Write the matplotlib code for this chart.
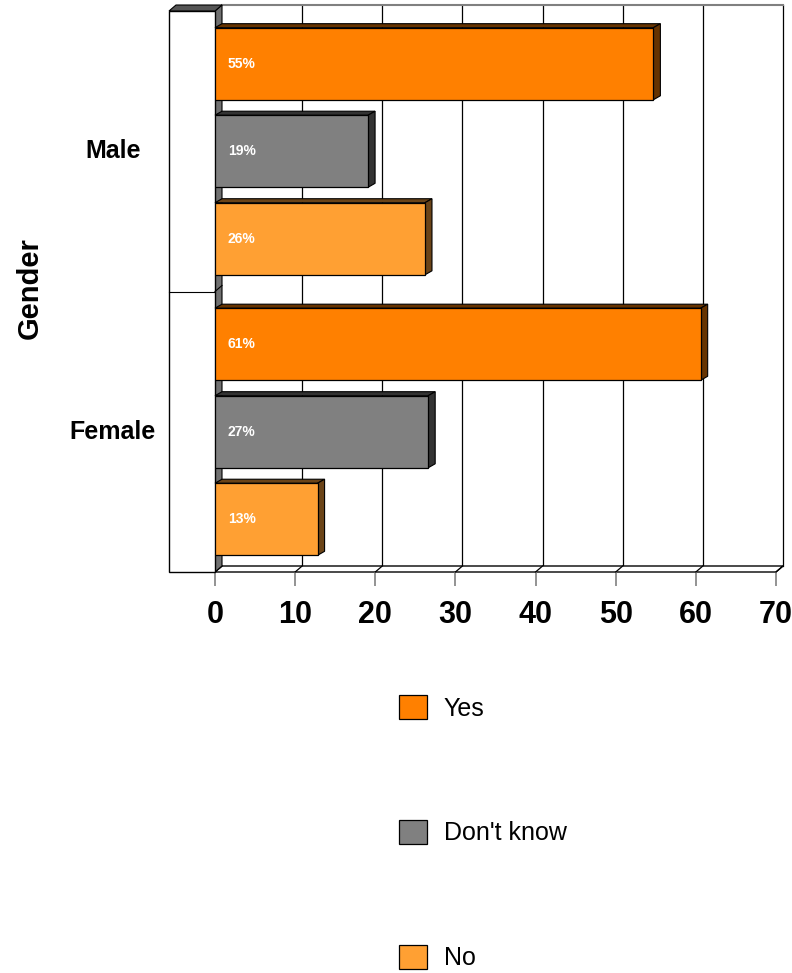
import matplotlib
matplotlib.use("Agg")
import matplotlib.pyplot as plt
from matplotlib.patches import Polygon, Rectangle

plt.rcParams['font.family'] = ['Liberation Sans', 'DejaVu Sans']

# ---- data ----
categories = ["Female", "Male"]
series_names = ["Yes", "Don't know", "No"]
yes_vals = [60.6, 54.7]
dk_vals = [26.6, 19.1]
no_vals = [12.8, 26.2]
yes_labels = ["61%", "55%"]
dk_labels = ["27%", "19%"]
no_labels = ["13%", "26%"]
x_ticks = [0, 10, 20, 30, 40, 50, 60, 70]

front_colors = ["#FF8000", "#808080", "#FFA033"]
side_colors = ["#663300", "#333333", "#6B4418"]

W, H = 792, 973
fig = plt.figure(figsize=(W / 100, H / 100), dpi=100)
# front plane of the plot area in pixels
x0p, x1p, y0p, y1p = 215, 776, 11, 572
ax = fig.add_axes([x0p / W, 1 - y1p / H, (x1p - x0p) / W, (y1p - y0p) / H])
ax.set_xlim(0, 70)
ax.set_ylim(-0.5, 1.5)
ax.set_facecolor("none")
for s in ax.spines.values():
    s.set_visible(False)

pxx = (x1p - x0p) / 70.0
pxy = (y1p - y0p) / 2.0
dxw, dyw = 7 / pxx, 6 / pxy       # wall depth
dxb, dyb = 7 / pxx, 4 / pxy       # bar depth
ylo, yhi = -0.5, 1.5

# back wall gridlines
for v in x_ticks[1:]:
    ax.plot([v + dxw, v + dxw], [ylo + dyw, yhi + dyw], color="black", lw=0.9,
            zorder=1, clip_on=False)
ax.plot([dxw, 70 + dxw], [yhi + dyw, yhi + dyw], color="#808080", lw=1.5,
        zorder=1, clip_on=False)

# floor
floor = Polygon([[0, ylo], [70, ylo], [70 + dxw, ylo + dyw], [dxw, ylo + dyw]],
                closed=True, facecolor="white", edgecolor="black", lw=1.0,
                zorder=1.5, clip_on=False)
ax.add_patch(floor)
for v in x_ticks:
    ax.plot([v, v + dxw], [ylo, ylo + dyw], color="black", lw=0.9, zorder=1.6,
            clip_on=False)

# value axis side strip (gray)
strip = Polygon([[0, ylo], [dxw, ylo + dyw], [dxw, yhi + dyw], [0, yhi]],
                closed=True, facecolor="#707070", edgecolor="black", lw=0.8,
                zorder=2, clip_on=False)
ax.add_patch(strip)
ax.plot([0, dxw], [0.5, 0.5 + dyw], color="black", lw=0.8, zorder=2.1, clip_on=False)

# left panel
lx = (169 - x0p) / pxx
ax.add_patch(Rectangle((lx, ylo), -lx, yhi - ylo, facecolor="white",
                       edgecolor="black", lw=1.0, zorder=2, clip_on=False))
ax.add_patch(Polygon([[lx, yhi], [0, yhi], [dxw, yhi + dyw], [lx + dxw, yhi + dyw]],
                     closed=True, facecolor="#555555", edgecolor="black", lw=0.8,
                     zorder=2, clip_on=False))
ax.plot([lx, 0], [0.5, 0.5], color="black", lw=0.8, zorder=2.1, clip_on=False)

# bars
bh = 0.257
offsets = [0.312, 0.0, -0.312]
all_vals = [yes_vals, dk_vals, no_vals]
all_labels = [yes_labels, dk_labels, no_labels]
ypos = list(range(len(categories)))
handles = []
for k in range(3):
    ys = [y + offsets[k] for y in ypos]
    cont = ax.barh(ys, all_vals[k], height=bh, color=front_colors[k],
                   edgecolor="black", linewidth=0.9, zorder=4,
                   label=series_names[k])
    handles.append(cont)
    for yc, v, lab in zip(ys, all_vals[k], all_labels[k]):
        top = yc + bh / 2
        bot = yc - bh / 2
        ax.add_patch(Polygon([[0, top], [v, top], [v + dxb, top + dyb], [dxb, top + dyb]],
                             closed=True, facecolor=side_colors[k], edgecolor="black",
                             lw=0.8, zorder=3.9, clip_on=False))
        ax.add_patch(Polygon([[v, bot], [v, top], [v + dxb, top + dyb], [v + dxb, bot + dyb]],
                             closed=True, facecolor=side_colors[k], edgecolor="black",
                             lw=0.8, zorder=3.9, clip_on=False))
        ax.text(1.6, yc, lab, color="white", fontsize=10, fontweight="bold",
                ha="left", va="center", zorder=5)

# ticks
ax.set_xticks(x_ticks)
ax.set_xticklabels([str(t) for t in x_ticks], fontsize=22, fontweight="bold")
ax.tick_params(axis="x", length=10, width=1.2, color="#808080", pad=10)
ax.set_yticks([])

# category labels
cx = (113 - x0p) / pxx
for y, c in zip(ypos, categories):
    ax.text(cx, y, c, fontsize=18, fontweight="bold", ha="center", va="center",
            clip_on=False)

fig.text(30 / W, 1 - 288 / H, "Gender", rotation=90, fontsize=21, fontweight="bold",
         ha="center", va="center")

leg = fig.legend(handles=handles, labels=series_names, loc="upper left",
                 bbox_to_anchor=(399 / W, 1 - 695 / H), frameon=False,
                 fontsize=18, handlelength=1.1, handleheight=1.1,
                 handletextpad=0.68, labelspacing=3.97, borderpad=0,
                 borderaxespad=0)

fig.savefig("out.png", dpi=100)
